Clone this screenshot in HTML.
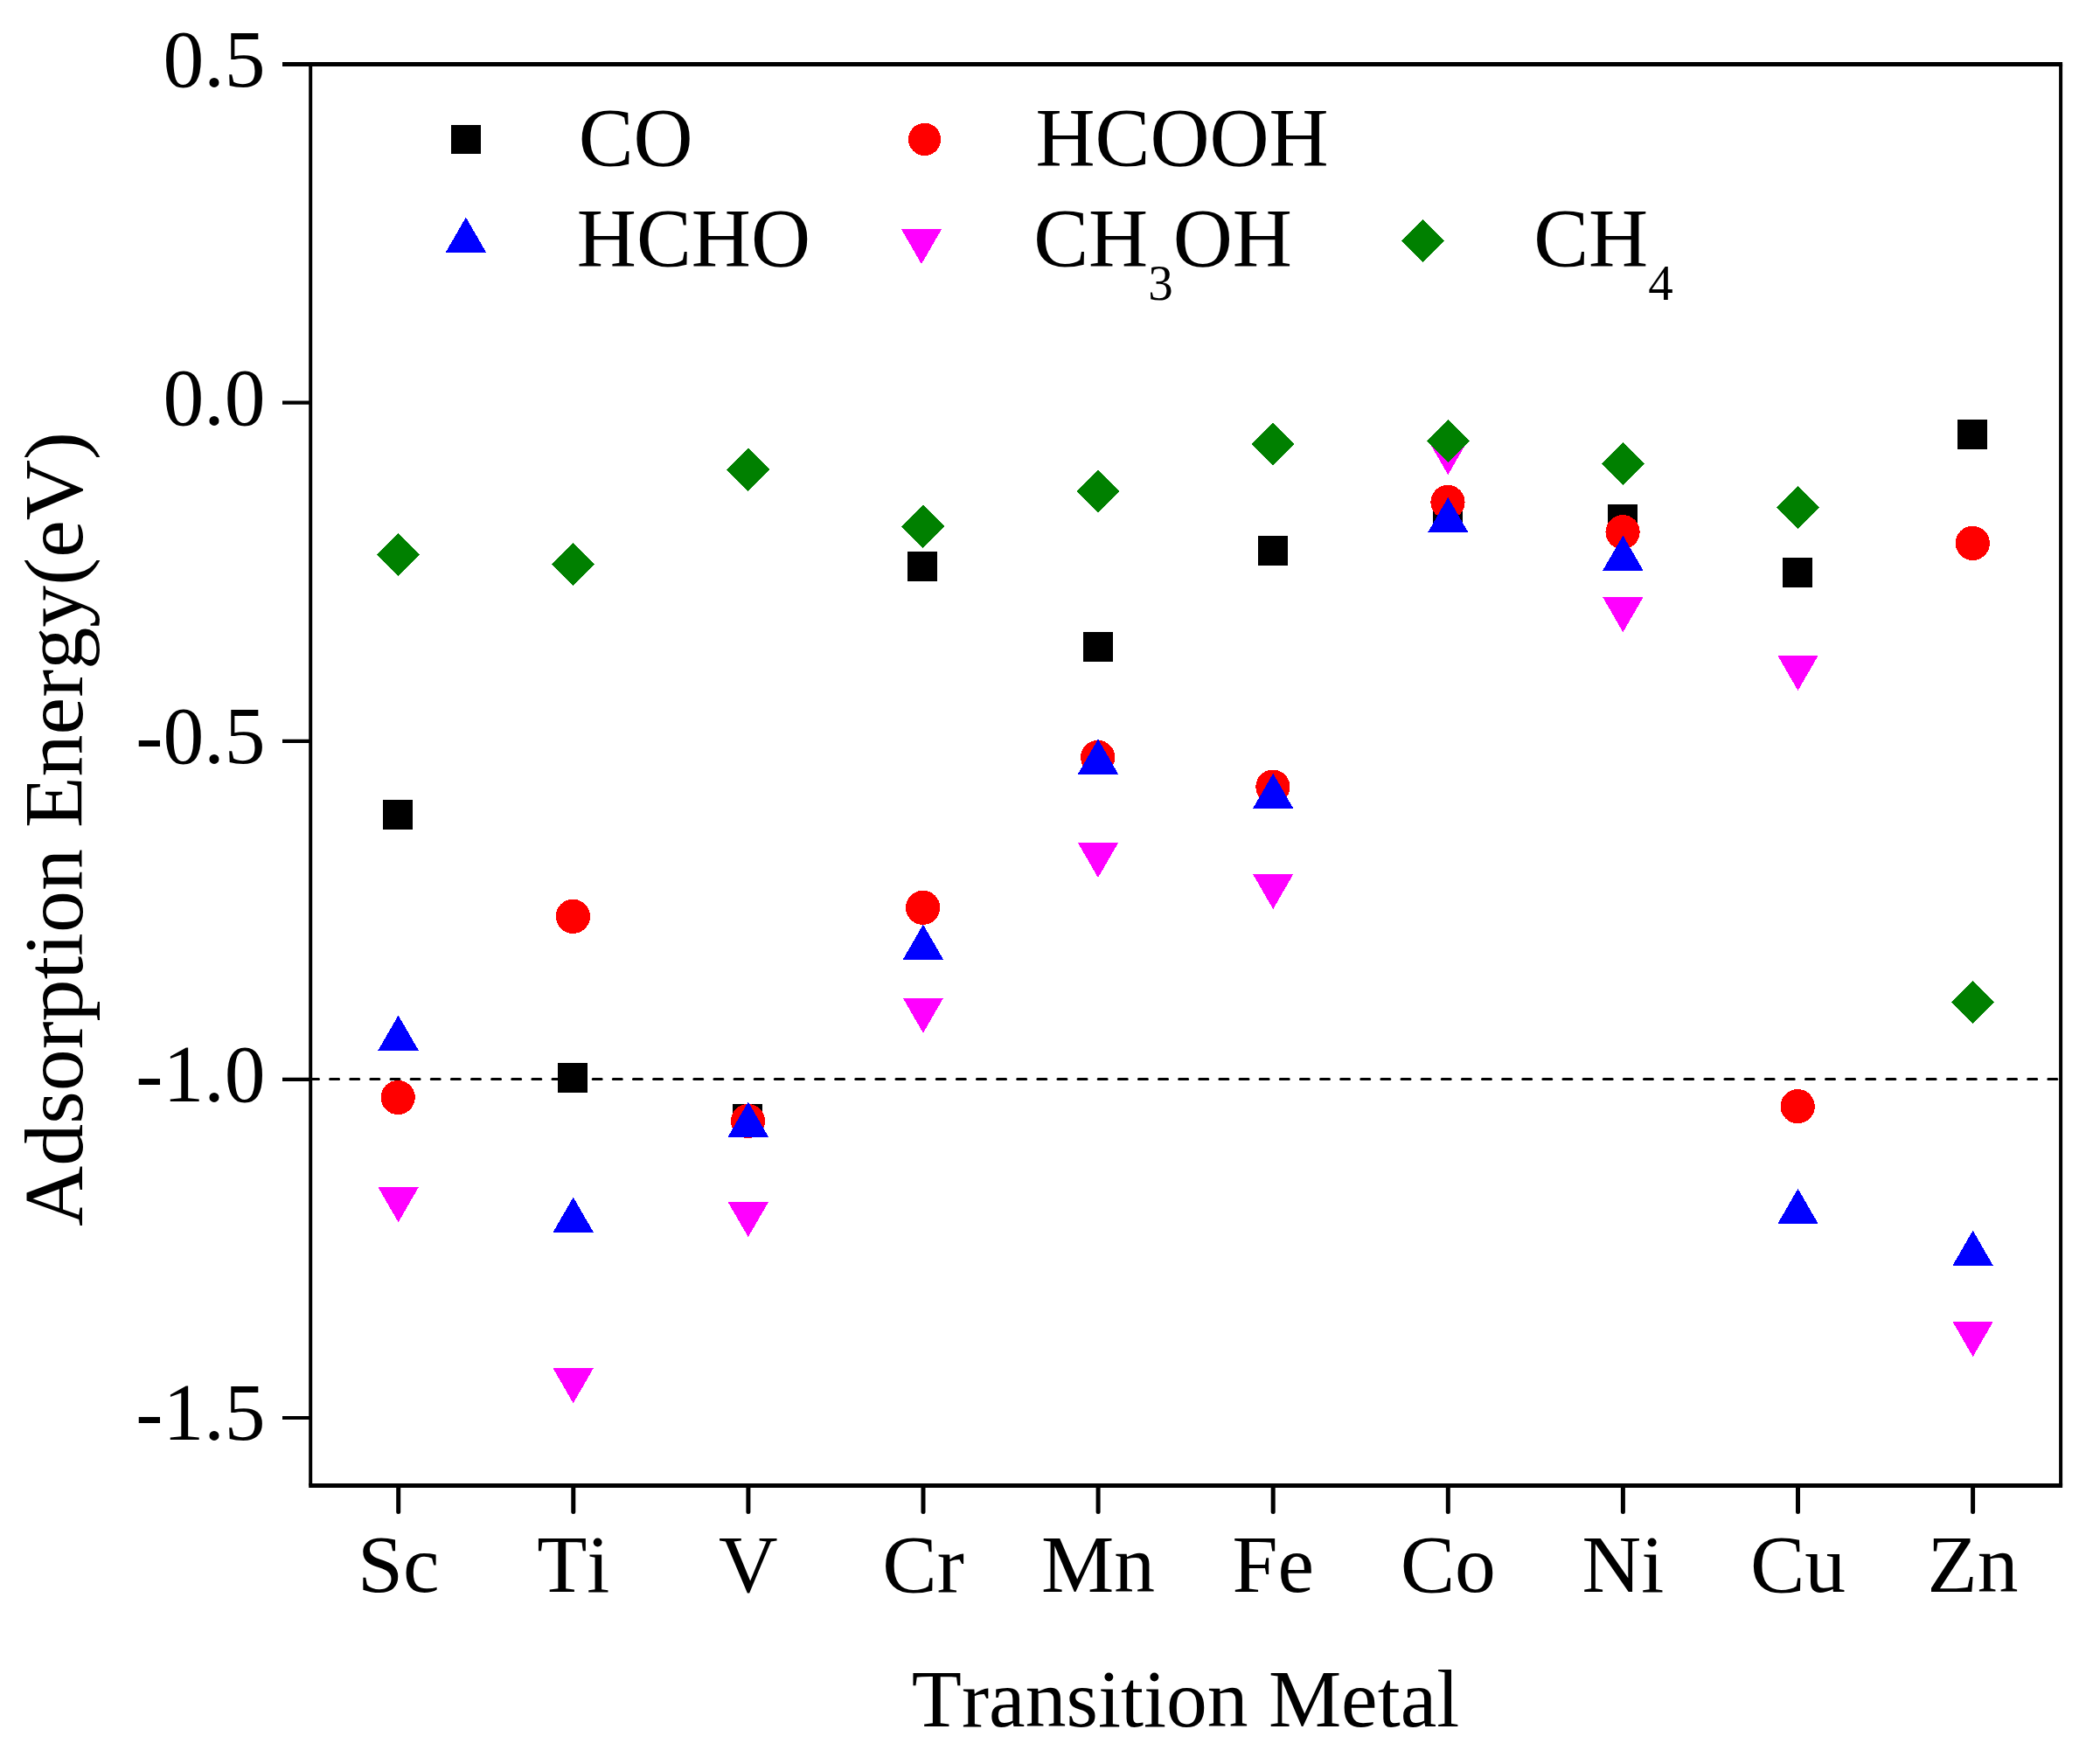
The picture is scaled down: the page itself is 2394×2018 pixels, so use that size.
<!DOCTYPE html>
<html lang="en"><head><meta charset="utf-8"><title>Adsorption Energy vs Transition Metal</title>
<style>
html,body{margin:0;padding:0;background:#fff;overflow:hidden;width:2394px;height:2018px}
svg{display:block}
text{font-family:"Liberation Serif","Times New Roman",serif;fill:#000;font-kerning:none;font-variant-ligatures:none}
.t{font-size:93.6px}
.s{font-size:57px}
.g{font-size:94.3px}
</style></head><body>
<svg width="2394" height="2018" viewBox="0 0 2394 2018">
<rect width="2394" height="2018" fill="#fff"/>
<line x1="354.5" y1="1234.4" x2="2357.1" y2="1234.4" stroke="#000" stroke-width="3" stroke-dasharray="10 13.12" stroke-linecap="round"/>
<g shape-rendering="crispEdges">
<rect x="438" y="915" width="34" height="34" fill="#000"/>
<rect x="638" y="1216" width="34" height="34" fill="#000"/>
<rect x="838" y="1263" width="34" height="34" fill="#000"/>
<rect x="1038" y="631" width="34" height="34" fill="#000"/>
<rect x="1239" y="723" width="34" height="34" fill="#000"/>
<rect x="1439" y="613" width="34" height="34" fill="#000"/>
<rect x="1639" y="574" width="34" height="34" fill="#000"/>
<rect x="1839" y="577" width="34" height="34" fill="#000"/>
<rect x="2039" y="638" width="34" height="34" fill="#000"/>
<rect x="2239" y="480" width="34" height="34" fill="#000"/>
<circle cx="455.2" cy="1255.5" r="19.6" fill="#f00"/>
<circle cx="655.4" cy="1048.3" r="19.6" fill="#f00"/>
<circle cx="855.5" cy="1282.5" r="19.6" fill="#f00"/>
<circle cx="1055.6" cy="1038.3" r="19.6" fill="#f00"/>
<circle cx="1255.7" cy="866.4" r="19.6" fill="#f00"/>
<circle cx="1455.9" cy="900.1" r="19.6" fill="#f00"/>
<circle cx="1656.0" cy="574.5" r="19.6" fill="#f00"/>
<circle cx="1856.1" cy="608.6" r="19.6" fill="#f00"/>
<circle cx="2056.2" cy="1265.6" r="19.6" fill="#f00"/>
<circle cx="2256.3" cy="621.4" r="19.6" fill="#f00"/>
<polygon points="455.6,1161.5 432.4,1201.7 478.8,1201.7" fill="#00f"/>
<polygon points="655.7,1369.6 632.5,1409.8 678.9,1409.8" fill="#00f"/>
<polygon points="855.8,1260.4 832.6,1300.6 879.0,1300.6" fill="#00f"/>
<polygon points="1055.9,1057.6 1032.7,1097.8 1079.1,1097.8" fill="#00f"/>
<polygon points="1256.0,845.5 1232.8,885.7 1279.2,885.7" fill="#00f"/>
<polygon points="1456.2,884.8 1433.0,925.0 1479.4,925.0" fill="#00f"/>
<polygon points="1656.3,569.0 1633.1,609.2 1679.5,609.2" fill="#00f"/>
<polygon points="1856.4,612.5 1833.2,652.7 1879.6,652.7" fill="#00f"/>
<polygon points="2056.5,1359.8 2033.3,1400.0 2079.7,1400.0" fill="#00f"/>
<polygon points="2256.6,1407.7 2233.4,1447.9 2279.8,1447.9" fill="#00f"/>
<polygon points="455.6,1398.3 432.4,1358.1 478.8,1358.1" fill="#f0f"/>
<polygon points="655.7,1605.3 632.5,1565.1 678.9,1565.1" fill="#f0f"/>
<polygon points="855.8,1415.2 832.6,1375.0 879.0,1375.0" fill="#f0f"/>
<polygon points="1055.9,1181.8 1032.7,1141.6 1079.1,1141.6" fill="#f0f"/>
<polygon points="1256.0,1004.1 1232.8,963.9 1279.2,963.9" fill="#f0f"/>
<polygon points="1456.2,1040.1 1433.0,999.9 1479.4,999.9" fill="#f0f"/>
<polygon points="1656.3,543.2 1633.1,503.0 1679.5,503.0" fill="#f0f"/>
<polygon points="1856.4,723.3 1833.2,683.1 1879.6,683.1" fill="#f0f"/>
<polygon points="2056.5,790.1 2033.3,749.9 2079.7,749.9" fill="#f0f"/>
<polygon points="2256.6,1552.1 2233.4,1511.9 2279.8,1511.9" fill="#f0f"/>
<polygon points="455.6,609.9 480.2,634.5 455.6,659.1 430.9,634.5" fill="#008000"/>
<polygon points="655.7,621.0 680.3,645.6 655.7,670.2 631.1,645.6" fill="#008000"/>
<polygon points="855.8,512.8 880.4,537.4 855.8,562.0 831.2,537.4" fill="#008000"/>
<polygon points="1055.9,577.8 1080.5,602.4 1055.9,627.0 1031.3,602.4" fill="#008000"/>
<polygon points="1256.0,537.7 1280.6,562.3 1256.0,586.9 1231.4,562.3" fill="#008000"/>
<polygon points="1456.2,483.5 1480.8,508.1 1456.2,532.7 1431.6,508.1" fill="#008000"/>
<polygon points="1656.3,479.9 1680.9,504.5 1656.3,529.1 1631.7,504.5" fill="#008000"/>
<polygon points="1856.4,505.8 1881.0,530.4 1856.4,555.0 1831.8,530.4" fill="#008000"/>
<polygon points="2056.5,555.9 2081.1,580.5 2056.5,605.1 2031.9,580.5" fill="#008000"/>
<polygon points="2256.6,1122.2 2281.2,1146.8 2256.6,1171.4 2232.0,1146.8" fill="#008000"/>
<rect x="516" y="143" width="34" height="33" fill="#000"/>
<circle cx="1057.6" cy="159.4" r="18.65" fill="#f00"/>
<polygon points="532.9,248.6 509.7,288.8 556.1,288.8" fill="#00f"/>
<polygon points="1054.0,302.1 1030.8,261.9 1077.2,261.9" fill="#f0f"/>
<polygon points="1627.6,250.9 1652.2,275.5 1627.6,300.1 1603.0,275.5" fill="#008000"/>
</g>
<path d="M353.2 73.45H2359.1M353.2 1699.5H2359.1" fill="none" stroke="#000" stroke-width="5"/>
<path d="M355.2 73.45V1699.5M2357.1 73.45V1699.5" fill="none" stroke="#000" stroke-width="4"/>
<line x1="323" y1="73.45" x2="355.2" y2="73.45" stroke="#000" stroke-width="5"/>
<text class="t" x="303.5" y="98.8" text-anchor="end">0.5</text>
<line x1="323" y1="460.6" x2="355.2" y2="460.6" stroke="#000" stroke-width="4.1"/>
<text class="t" x="303.5" y="486.0" text-anchor="end">0.0</text>
<line x1="323" y1="847.9" x2="355.2" y2="847.9" stroke="#000" stroke-width="4.1"/>
<text class="t" x="303.5" y="873.3" text-anchor="end">-0.5</text>
<line x1="323" y1="1234.9" x2="355.2" y2="1234.9" stroke="#000" stroke-width="4.1"/>
<text class="t" x="303.5" y="1260.3" text-anchor="end">-1.0</text>
<line x1="323" y1="1622.0" x2="355.2" y2="1622.0" stroke="#000" stroke-width="4.1"/>
<text class="t" x="303.5" y="1647.4" text-anchor="end">-1.5</text>
<line x1="455.7" y1="1699.5" x2="455.7" y2="1729.4" stroke="#000" stroke-width="5" stroke-linecap="round"/>
<text class="t" x="455.7" y="1821" text-anchor="middle">Sc</text>
<line x1="655.8" y1="1699.5" x2="655.8" y2="1729.4" stroke="#000" stroke-width="5" stroke-linecap="round"/>
<text class="t" x="655.8" y="1821" text-anchor="middle">Ti</text>
<line x1="855.9" y1="1699.5" x2="855.9" y2="1729.4" stroke="#000" stroke-width="5" stroke-linecap="round"/>
<text class="t" x="855.9" y="1821" text-anchor="middle">V</text>
<line x1="1056.0" y1="1699.5" x2="1056.0" y2="1729.4" stroke="#000" stroke-width="5" stroke-linecap="round"/>
<text class="t" x="1056.0" y="1821" text-anchor="middle">Cr</text>
<line x1="1256.1" y1="1699.5" x2="1256.1" y2="1729.4" stroke="#000" stroke-width="5" stroke-linecap="round"/>
<text class="t" x="1256.1" y="1821" text-anchor="middle">Mn</text>
<line x1="1456.2" y1="1699.5" x2="1456.2" y2="1729.4" stroke="#000" stroke-width="5" stroke-linecap="round"/>
<text class="t" x="1456.2" y="1821" text-anchor="middle">Fe</text>
<line x1="1656.3" y1="1699.5" x2="1656.3" y2="1729.4" stroke="#000" stroke-width="5" stroke-linecap="round"/>
<text class="t" x="1656.3" y="1821" text-anchor="middle">Co</text>
<line x1="1856.4" y1="1699.5" x2="1856.4" y2="1729.4" stroke="#000" stroke-width="5" stroke-linecap="round"/>
<text class="t" x="1856.4" y="1821" text-anchor="middle">Ni</text>
<line x1="2056.5" y1="1699.5" x2="2056.5" y2="1729.4" stroke="#000" stroke-width="5" stroke-linecap="round"/>
<text class="t" x="2056.5" y="1821" text-anchor="middle">Cu</text>
<line x1="2256.6" y1="1699.5" x2="2256.6" y2="1729.4" stroke="#000" stroke-width="5" stroke-linecap="round"/>
<text class="t" x="2256.6" y="1821" text-anchor="middle">Zn</text>
<text class="t" x="1356" y="1974.6" text-anchor="middle">Transition Metal</text>
<text class="t" style="font-size:96px" transform="translate(94 948.5) rotate(-90)" text-anchor="middle">Adsorption Energy(eV)</text>
<text class="g" x="661.7" y="189.5">CO</text>
<text class="g" x="1184.4" y="189.5">HCOOH</text>
<text class="g" x="659.8" y="305.2">HCHO</text>
<text class="g" x="1182.2" y="305.2">CH<tspan class="s" dy="38">3</tspan><tspan dy="-38">OH</tspan></text>
<text class="g" x="1754.2" y="305.2">CH<tspan class="s" dy="38">4</tspan></text>
</svg></body></html>
